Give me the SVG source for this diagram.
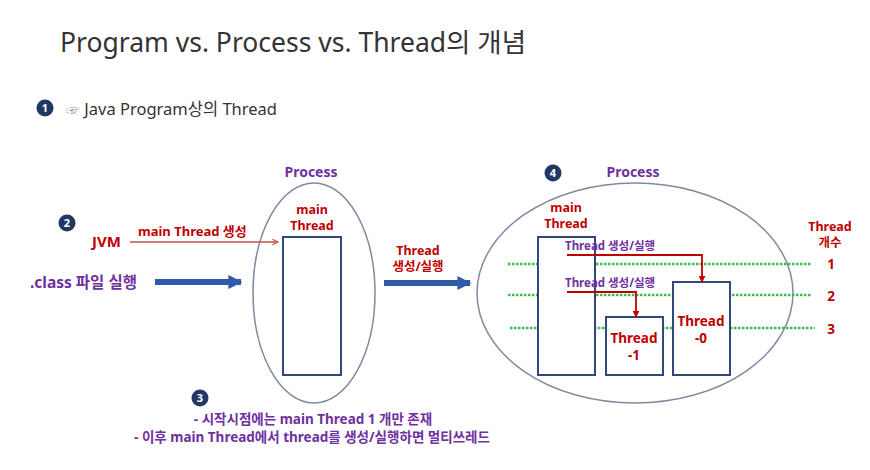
<svg xmlns="http://www.w3.org/2000/svg" width="870" height="470" viewBox="0 0 870 470">
  <defs>
    <marker id="openRed" viewBox="0 0 10 10" refX="9" refY="5" markerWidth="7" markerHeight="7" orient="auto" markerUnits="userSpaceOnUse">
      <path d="M1,1 L9,5 L1,9" fill="none" stroke="#c0504d" stroke-width="1.5"/>
    </marker>
    <marker id="fillRed" viewBox="0 0 10 10" refX="9" refY="5" markerWidth="7" markerHeight="7" orient="auto" markerUnits="userSpaceOnUse">
      <path d="M0,0 L10,5 L0,10 Z" fill="#c00000"/>
    </marker>
    <marker id="blueHead" viewBox="0 0 10 10" refX="9" refY="5" markerWidth="14" markerHeight="14" orient="auto" markerUnits="userSpaceOnUse">
      <path d="M0,0 L10,5 L0,10 Z" fill="#2e5ca8"/>
    </marker>
  </defs>
  <style>
    text { font-family: "Noto Sans", "Noto Sans CJK KR", sans-serif; }
    .title { font-size: 26.5px; fill: #333333; }
    .sub { font-size: 16.5px; fill: #333333; }
    .red { fill: #c00000; font-weight: bold; }
    .purple { fill: #7030a0; font-weight: bold; }
    .badge { fill: #1f3864; }
    .badgeNum { fill: #ffffff; font-size: 11px; font-weight: bold; text-anchor: middle; }
    .proc { fill: none; stroke: #7f8aa0; stroke-width: 1.5; }
    .thread { fill: #ffffff; stroke: #2f4a7a; stroke-width: 2; }
    .dash { stroke: #3cbf4a; stroke-width: 2.5; stroke-dasharray: 2.5 1.5; }
    .mid { text-anchor: middle; }
  </style>

  <!-- heading -->
  <text class="title" x="60" y="52">Program vs. Process vs. Thread의 개념</text>
  <circle class="badge" cx="45" cy="108" r="8.5"/>
  <text class="badgeNum" x="45" y="112">1</text>
  <text class="sub" x="66" y="115"><tspan fill="#999999" font-size="14">☞</tspan> Java Program상의 Thread</text>

  <!-- step 2: JVM starts the class file -->
  <circle class="badge" cx="67" cy="223" r="8.5"/>
  <text class="badgeNum" x="67" y="227">2</text>
  <text class="red" x="92" y="247" font-size="15">JVM</text>
  <text class="red" x="138" y="236" font-size="13">main Thread 생성</text>
  <text class="purple" x="30" y="288" font-size="15.5">.class 파일 실행</text>

  <!-- first process -->
  <g id="process1">
    <ellipse class="proc" cx="314" cy="293" rx="61" ry="110"/>
    <text class="purple mid" x="311" y="177" font-size="14">Process</text>
  </g>
  <g id="mainThread1">
    <rect class="thread" x="283" y="237" width="58" height="138"/>
    <text class="red mid" x="312" y="214" font-size="12.5">main</text>
    <text class="red mid" x="312" y="230" font-size="12.5">Thread</text>
  </g>

  <!-- between the two processes -->
  <text class="red mid" x="418" y="255" font-size="12.5">Thread</text>
  <text class="red mid" x="418" y="271" font-size="12.5">생성/실행</text>

  <!-- second process -->
  <g id="process2">
    <ellipse class="proc" cx="635" cy="293" rx="158" ry="110"/>
    <circle class="badge" cx="553" cy="173" r="8.5"/>
    <text class="badgeNum" x="553" y="177">4</text>
    <text class="purple mid" x="633" y="177" font-size="14">Process</text>
  </g>

  <!-- thread count guide lines -->
  <g id="threadCount">
    <line class="dash" x1="508" y1="264" x2="812" y2="264"/>
    <line class="dash" x1="508" y1="295" x2="812" y2="295"/>
    <line class="dash" x1="510" y1="328" x2="815" y2="328"/>
    <text class="red mid" x="830" y="231" font-size="12.5">Thread</text>
    <text class="red mid" x="830" y="247" font-size="12.5">개수</text>
    <text class="red mid" x="831" y="269" font-size="13.5">1</text>
    <text class="red mid" x="831" y="301" font-size="13.5">2</text>
    <text class="red mid" x="831" y="334" font-size="13.5">3</text>
  </g>

  <g id="mainThread2">
    <rect class="thread" x="538" y="237" width="57" height="138"/>
    <text class="red mid" x="566" y="212" font-size="12.5">main</text>
    <text class="red mid" x="566" y="228" font-size="12.5">Thread</text>
  </g>
  <g id="thread1">
    <rect class="thread" x="606" y="317" width="57" height="58"/>
    <text class="red mid" x="634" y="343" font-size="13.5">Thread</text>
    <text class="red mid" x="634" y="360" font-size="13.5">-1</text>
  </g>
  <g id="thread0">
    <rect class="thread" x="673" y="282" width="57" height="93"/>
    <text class="red mid" x="701" y="326" font-size="13.5">Thread</text>
    <text class="red mid" x="701" y="343" font-size="13.5">-0</text>
  </g>

  <!-- connectors -->
  <g id="connectors" fill="none">
    <line x1="130" y1="242" x2="278" y2="242" stroke="#c0504d" stroke-width="1.3" marker-end="url(#openRed)"/>
    <line x1="155" y1="282" x2="241" y2="282" stroke="#2e5ca8" stroke-width="6" marker-end="url(#blueHead)"/>
    <line x1="384" y1="283" x2="470" y2="283" stroke="#2e5ca8" stroke-width="6" marker-end="url(#blueHead)"/>
    <polyline points="567,255 702,255 702,282" stroke="#c00000" stroke-width="1.8" marker-end="url(#fillRed)"/>
    <polyline points="567,292 636,292 636,317" stroke="#c00000" stroke-width="1.8" marker-end="url(#fillRed)"/>
  </g>
  <text class="purple" x="565" y="250" font-size="11.5">Thread 생성/실행</text>
  <text class="purple" x="565" y="287" font-size="11.5">Thread 생성/실행</text>

  <!-- step 3 notes -->
  <circle class="badge" cx="200" cy="398" r="8.5"/>
  <text class="badgeNum" x="200" y="402">3</text>
  <text class="purple mid" x="313" y="424" font-size="13.5">- 시작시점에는 main Thread 1 개만 존재</text>
  <text class="purple mid" x="312" y="442" font-size="13.5">- 이후 main Thread에서 thread를 생성/실행하면 멀티쓰레드</text>
</svg>
